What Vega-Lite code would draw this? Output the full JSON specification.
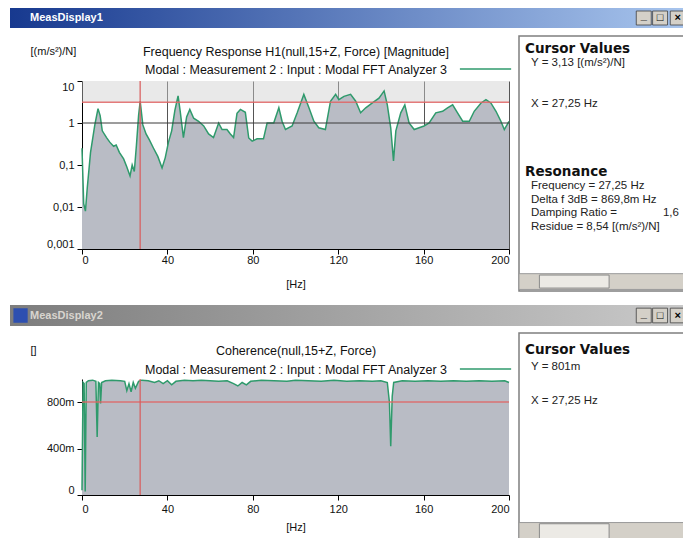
{
  "$schema": "https://vega.github.io/schema/vega-lite/v6.json",
  "background": "#ffffff",
  "padding": {"left": 10, "top": 8, "right": 0, "bottom": 0},
  "config": {
    "view": {"stroke": null},
    "font": "Liberation Sans",
    "axis": {"domainColor": "#000000", "tickColor": "#000000", "labelColor": "#111111", "titleColor": "#111111", "labelFont": "Liberation Sans", "titleFont": "Liberation Sans", "labelFontSize": 11, "titleFontSize": 11, "titleFontWeight": "normal", "tickSize": 5, "grid": false}
  },
  "datasets": {
    "frf": [
      {"hz": 0, "mag": 0.25}, {"hz": 0.8, "mag": 0.012}, {"hz": 1.6, "mag": 0.008}, {"hz": 2.5, "mag": 0.03}, {"hz": 4, "mag": 0.2},
      {"hz": 6, "mag": 0.9}, {"hz": 7.5, "mag": 2.2}, {"hz": 8.5, "mag": 1.5}, {"hz": 9.5, "mag": 0.65}, {"hz": 11.5, "mag": 0.45},
      {"hz": 13, "mag": 0.35}, {"hz": 14.8, "mag": 0.28}, {"hz": 16, "mag": 0.3}, {"hz": 17.5, "mag": 0.2}, {"hz": 19.5, "mag": 0.14},
      {"hz": 21, "mag": 0.09}, {"hz": 22.5, "mag": 0.055}, {"hz": 23.5, "mag": 0.1}, {"hz": 24.5, "mag": 0.07}, {"hz": 25.5, "mag": 0.3},
      {"hz": 26.5, "mag": 1.5}, {"hz": 27.25, "mag": 3.3}, {"hz": 28.5, "mag": 0.9}, {"hz": 30, "mag": 0.55}, {"hz": 31.5, "mag": 0.4},
      {"hz": 33.5, "mag": 0.25}, {"hz": 35.5, "mag": 0.16}, {"hz": 37.5, "mag": 0.085}, {"hz": 39, "mag": 0.15}, {"hz": 40.5, "mag": 0.35},
      {"hz": 42, "mag": 0.65}, {"hz": 43.5, "mag": 2.0}, {"hz": 45, "mag": 4.4}, {"hz": 46, "mag": 1.9}, {"hz": 47.5, "mag": 0.45},
      {"hz": 49, "mag": 1.4}, {"hz": 50.5, "mag": 2.1}, {"hz": 52.3, "mag": 1.3}, {"hz": 54.6, "mag": 1.1}, {"hz": 57, "mag": 0.85},
      {"hz": 59.3, "mag": 0.55}, {"hz": 61.6, "mag": 0.45}, {"hz": 64, "mag": 1.0}, {"hz": 65.6, "mag": 0.7}, {"hz": 67.9, "mag": 0.7},
      {"hz": 69.5, "mag": 0.55}, {"hz": 71, "mag": 0.45}, {"hz": 72.6, "mag": 1.7}, {"hz": 74.2, "mag": 2.1}, {"hz": 76.5, "mag": 1.8},
      {"hz": 78.1, "mag": 0.44}, {"hz": 79.7, "mag": 0.37}, {"hz": 82, "mag": 0.42}, {"hz": 85, "mag": 0.42}, {"hz": 86.7, "mag": 1.0},
      {"hz": 89.8, "mag": 1.0}, {"hz": 92.2, "mag": 2.3}, {"hz": 93.7, "mag": 1.1}, {"hz": 95.3, "mag": 0.7}, {"hz": 98.4, "mag": 0.85},
      {"hz": 100.8, "mag": 1.75}, {"hz": 103.9, "mag": 4.8}, {"hz": 106.3, "mag": 2.3}, {"hz": 108.6, "mag": 1.1}, {"hz": 110.9, "mag": 0.77},
      {"hz": 114, "mag": 0.7}, {"hz": 116.4, "mag": 3.3}, {"hz": 118.8, "mag": 4.8}, {"hz": 120.3, "mag": 3.6}, {"hz": 122.7, "mag": 4.3},
      {"hz": 125.8, "mag": 4.8}, {"hz": 128.2, "mag": 3.3}, {"hz": 130.5, "mag": 1.75}, {"hz": 132.9, "mag": 2.3}, {"hz": 136, "mag": 3.0},
      {"hz": 139.1, "mag": 3.9}, {"hz": 141.5, "mag": 5.8}, {"hz": 143, "mag": 2.7}, {"hz": 144.6, "mag": 0.77}, {"hz": 145.9, "mag": 0.125},
      {"hz": 147, "mag": 0.65}, {"hz": 149.3, "mag": 1.75}, {"hz": 151.2, "mag": 2.7}, {"hz": 153.2, "mag": 1.0}, {"hz": 155.6, "mag": 0.7},
      {"hz": 157.9, "mag": 0.77}, {"hz": 160.2, "mag": 0.85}, {"hz": 162.6, "mag": 1.0}, {"hz": 165.7, "mag": 1.75}, {"hz": 168.9, "mag": 1.9},
      {"hz": 171.2, "mag": 2.3}, {"hz": 173.6, "mag": 2.7}, {"hz": 175.9, "mag": 1.75}, {"hz": 178.3, "mag": 1.1}, {"hz": 181.4, "mag": 1.1},
      {"hz": 183.7, "mag": 1.9}, {"hz": 186.9, "mag": 3.0}, {"hz": 189.2, "mag": 3.6}, {"hz": 191.5, "mag": 3.0}, {"hz": 193.9, "mag": 1.9},
      {"hz": 196.2, "mag": 1.1}, {"hz": 197.8, "mag": 0.7}, {"hz": 200, "mag": 1.1}
    ],
    "coh": [
      {"hz": 0, "coh": 0.04}, {"hz": 0.5, "coh": 0.97}, {"hz": 1.0, "coh": 0.96}, {"hz": 1.5, "coh": 0.03}, {"hz": 2.0, "coh": 0.97},
      {"hz": 3, "coh": 0.985}, {"hz": 5, "coh": 0.99}, {"hz": 6.5, "coh": 0.98}, {"hz": 7.1, "coh": 0.5}, {"hz": 7.7, "coh": 0.97},
      {"hz": 8.3, "coh": 0.96}, {"hz": 8.7, "coh": 0.79}, {"hz": 9.2, "coh": 0.97}, {"hz": 11, "coh": 0.985}, {"hz": 14, "coh": 0.99},
      {"hz": 18, "coh": 0.985}, {"hz": 20, "coh": 0.98}, {"hz": 21, "coh": 0.9}, {"hz": 22, "coh": 0.96}, {"hz": 23, "coh": 0.89},
      {"hz": 24, "coh": 0.97}, {"hz": 25, "coh": 0.92}, {"hz": 26.5, "coh": 0.98}, {"hz": 28, "coh": 0.99}, {"hz": 31, "coh": 0.985},
      {"hz": 34, "coh": 0.97}, {"hz": 36, "coh": 0.985}, {"hz": 38, "coh": 0.96}, {"hz": 40, "coh": 0.985}, {"hz": 42, "coh": 0.95},
      {"hz": 44, "coh": 0.98}, {"hz": 48, "coh": 0.99}, {"hz": 52, "coh": 0.985}, {"hz": 56, "coh": 0.99}, {"hz": 60, "coh": 0.985},
      {"hz": 64, "coh": 0.98}, {"hz": 68, "coh": 0.985}, {"hz": 71, "coh": 0.96}, {"hz": 73, "coh": 0.94}, {"hz": 75, "coh": 0.97},
      {"hz": 77, "coh": 0.95}, {"hz": 79, "coh": 0.98}, {"hz": 84, "coh": 0.99}, {"hz": 90, "coh": 0.985}, {"hz": 96, "coh": 0.98},
      {"hz": 100, "coh": 0.99}, {"hz": 106, "coh": 0.985}, {"hz": 112, "coh": 0.98}, {"hz": 118, "coh": 0.99}, {"hz": 124, "coh": 0.98},
      {"hz": 130, "coh": 0.985}, {"hz": 136, "coh": 0.98}, {"hz": 140, "coh": 0.985}, {"hz": 143, "coh": 0.97}, {"hz": 144, "coh": 0.8},
      {"hz": 144.6, "coh": 0.42}, {"hz": 145.3, "coh": 0.85}, {"hz": 146, "coh": 0.97}, {"hz": 150, "coh": 0.985}, {"hz": 156, "coh": 0.98},
      {"hz": 162, "coh": 0.985}, {"hz": 168, "coh": 0.98}, {"hz": 174, "coh": 0.985}, {"hz": 180, "coh": 0.98}, {"hz": 186, "coh": 0.985},
      {"hz": 192, "coh": 0.98}, {"hz": 198, "coh": 0.985}, {"hz": 200, "coh": 0.97}
    ],
    "panel1": [
      {"row": 0, "kind": "heading", "text": "Cursor Values"},
      {"row": 1, "kind": "item", "text": "Y = 3,13 [(m/s²)/N]"},
      {"row": 4, "kind": "item", "text": "X = 27,25 Hz"},
      {"row": 9, "kind": "heading", "text": "Resonance"},
      {"row": 10, "kind": "item", "text": "Frequency = 27,25 Hz"},
      {"row": 11, "kind": "item", "text": "Delta f 3dB = 869,8m Hz"},
      {"row": 12, "kind": "item", "text": "Damping Ratio =\u2003\u2003\u2003\u20031,6"},
      {"row": 13, "kind": "item", "text": "Residue = 8,54 [(m/s²)/N]"}
    ],
    "panel2": [
      {"row": 0, "kind": "heading", "text": "Cursor Values"},
      {"row": 1, "kind": "item", "text": "Y = 801m"},
      {"row": 3, "kind": "item", "text": "X = 27,25 Hz"}
    ]
  },
  "spacing": 13,
  "vconcat": [
    {
      "spacing": 7,
      "vconcat": [
        {
          "width": 680, "height": 20,
          "data": {"values": [{"name": "MeasDisplay1"}]},
          "layer": [
            {"mark": {"type": "rect", "color": {"gradient": "linear", "x1": 0, "x2": 1, "y1": 0, "y2": 0, "stops": [{"offset": 0, "color": "#17398f"}, {"offset": 1, "color": "#a9c6ee"}]}},
             "encoding": {"x": {"datum": 0, "type": "quantitative", "scale": {"domain": [0, 1]}, "axis": null}, "x2": {"datum": 1}}},
            {"mark": {"type": "text", "align": "left", "baseline": "middle", "dx": 20, "color": "#ffffff", "fontWeight": "bold", "fontSize": 11},
             "encoding": {"x": {"datum": 0, "type": "quantitative"}, "text": {"field": "name"}}},
            {"mark": {"type": "rect", "color": "#d4d0c8", "stroke": "#404040", "strokeWidth": 0.8},
             "encoding": {"x": {"datum": 0.921, "type": "quantitative"}, "x2": {"datum": 0.943}, "y": {"datum": 0.15, "type": "quantitative", "scale": {"domain": [0, 1]}, "axis": null}, "y2": {"datum": 0.85}}},
            {"mark": {"type": "rect", "color": "#d4d0c8", "stroke": "#404040", "strokeWidth": 0.8},
             "encoding": {"x": {"datum": 0.945, "type": "quantitative"}, "x2": {"datum": 0.967}, "y": {"datum": 0.15, "type": "quantitative"}, "y2": {"datum": 0.85}}},
            {"mark": {"type": "rect", "color": "#d4d0c8", "stroke": "#404040", "strokeWidth": 0.8},
             "encoding": {"x": {"datum": 0.971, "type": "quantitative"}, "x2": {"datum": 0.993}, "y": {"datum": 0.15, "type": "quantitative"}, "y2": {"datum": 0.85}}},
            {"mark": {"type": "text", "align": "center", "baseline": "middle", "color": "#000000", "fontWeight": "bold", "fontSize": 11, "text": "_", "dy": -2},
             "encoding": {"x": {"datum": 0.932, "type": "quantitative"}}},
            {"mark": {"type": "text", "align": "center", "baseline": "middle", "color": "#000000", "fontWeight": "bold", "fontSize": 11, "text": "□"},
             "encoding": {"x": {"datum": 0.956, "type": "quantitative"}}},
            {"mark": {"type": "text", "align": "center", "baseline": "middle", "color": "#000000", "fontWeight": "bold", "fontSize": 11, "text": "×"},
             "encoding": {"x": {"datum": 0.982, "type": "quantitative"}}}
          ]
        },
        {
          "spacing": 5,
          "hconcat": [
            {"width": 15, "height": 1, "data": {"values": []}, "mark": "point"},
            {
              "spacing": 0,
              "vconcat": [
                {"width": 1, "height": 9, "data": {"values": []}, "mark": "point"},
                {
                  "width": 427, "height": 168,
                  "resolve": {"axis": {"x": "independent"}},
                  "layer": [
                    {"data": {"values": [{}]}, "mark": {"type": "rect", "color": "#cfcfcf", "opacity": 0.45},
                     "encoding": {"x": {"datum": 0, "type": "quantitative", "axis": null}, "x2": {"datum": 200}, "y": {"datum": 3.13, "type": "quantitative"}, "y2": {"datum": 10}}},
                    {"data": {"name": "frf"},
                     "mark": {"type": "area", "color": "#b9bcc5", "opacity": 1, "line": {"color": "#2f9a6c", "strokeWidth": 1.5}},
                     "encoding": {
                       "x": {"field": "hz", "type": "quantitative", "scale": {"domain": [0, 200], "nice": false, "zero": false},
                             "axis": {"values": [0, 40, 80, 120, 160, 200], "title": "[Hz]", "labelPadding": 0, "titlePadding": 13, "grid": true, "gridColor": "#555555", "gridOpacity": 1}},
                       "y": {"field": "mag", "type": "quantitative", "stack": null, "scale": {"type": "log", "domain": [0.001, 10], "nice": false},
                             "axis": {"values": [0.001, 0.01, 0.1, 1, 10], "labelExpr": "replace(format(datum.value, '~g'), '.', ',')", "labelFlush": true, "labelPadding": 3, "title": "[(m/s²)/N]", "titleAngle": 0, "titleAlign": "left", "titleBaseline": "middle", "titleX": -52, "titleY": -30}},
                       "y2": {"datum": 0.001}
                     }},
                    {"data": {"values": [{}]}, "mark": {"type": "rule", "color": "#3a3a3a", "strokeWidth": 1}, "encoding": {"y": {"datum": 1, "type": "quantitative"}}},
                    {"data": {"values": [{}]}, "mark": {"type": "rule", "color": "#e06464", "strokeWidth": 1.5, "opacity": 0.85}, "encoding": {"y": {"datum": 3.13, "type": "quantitative"}}},
                    {"data": {"values": [{}]}, "mark": {"type": "rule", "color": "#d85a5a", "strokeWidth": 1.5, "opacity": 0.8}, "encoding": {"x": {"datum": 27.25, "type": "quantitative", "axis": null}}},
                    {"data": {"values": [{}]}, "mark": {"type": "rule", "color": "#2f9a6c", "strokeWidth": 1.5},
                     "encoding": {
                       "x": {"datum": 177, "type": "quantitative",
                             "axis": {"orient": "top", "labels": false, "ticks": false, "domain": false, "grid": false, "title": ["Frequency Response H1(null,15+Z, Force) [Magnitude]", "Modal : Measurement 2 : Input : Modal FFT Analyzer 3"], "titleFontSize": 12.5, "titleLineHeight": 18, "titleBaseline": "middle", "titleY": -30}},
                       "x2": {"datum": 201},
                       "y": {"datum": 19.3, "type": "quantitative"}}}
                  ]
                }
              ]
            },
            {
              "width": 170, "height": 255,
              "view": {"fill": "#ffffff", "stroke": "#7f7f7f", "strokeWidth": 1.5},
              "layer": [
                {"data": {"values": [{"part": "bar"}]}, "mark": {"type": "rect", "color": "#d4d0c8", "stroke": "#9a9a9a", "strokeWidth": 1},
                 "encoding": {"x": {"datum": 0.0, "type": "quantitative", "scale": {"domain": [0, 1], "nice": false}, "axis": null}, "x2": {"datum": 1}, "y": {"datum": 16.4, "type": "quantitative", "scale": {"domain": [-0.9489, 17.664], "reverse": true, "nice": false, "zero": false}, "axis": null}, "y2": {"datum": 17.55}}},
                {"data": {"values": [{"part": "thumb"}]}, "mark": {"type": "rect", "color": "#eceae5", "stroke": "#8a8a8a", "strokeWidth": 1},
                 "encoding": {"x": {"datum": 0.12, "type": "quantitative"}, "x2": {"datum": 0.53}, "y": {"datum": 16.5, "type": "quantitative"}, "y2": {"datum": 17.45}}},
                {"data": {"name": "panel1"}, "transform": [{"filter": "datum.kind == 'heading'"}],
                 "mark": {"type": "text", "align": "left", "baseline": "middle", "dx": 6, "font": "DejaVu Sans", "fontWeight": "bold", "fontSize": 13.5, "color": "#111111"},
                 "encoding": {"x": {"datum": 0, "type": "quantitative"}, "y": {"field": "row", "type": "quantitative", "scale": {"domain": [-0.9489, 17.664], "reverse": true, "nice": false, "zero": false}}, "text": {"field": "text"}}},
                {"data": {"name": "panel1"}, "transform": [{"filter": "datum.kind == 'item'"}],
                 "mark": {"type": "text", "align": "left", "baseline": "middle", "dx": 12, "fontSize": 11.5, "color": "#222222"},
                 "encoding": {"x": {"datum": 0, "type": "quantitative"}, "y": {"field": "row", "type": "quantitative", "scale": {"domain": [-0.9489, 17.664], "reverse": true, "nice": false, "zero": false}}, "text": {"field": "text"}}}
              ]
            }
          ]
        }
      ]
    },
    {
      "spacing": 6,
      "vconcat": [
        {
          "width": 680, "height": 21,
          "data": {"values": [{"name": "MeasDisplay2"}]},
          "layer": [
            {"mark": {"type": "rect", "color": {"gradient": "linear", "x1": 0, "x2": 1, "y1": 0, "y2": 0, "stops": [{"offset": 0, "color": "#7d7d7d"}, {"offset": 1, "color": "#cacaca"}]}},
             "encoding": {"x": {"datum": 0, "type": "quantitative", "scale": {"domain": [0, 1]}, "axis": null}, "x2": {"datum": 1}}},
            {"mark": {"type": "rect", "color": "#2d4fb0"},
             "encoding": {"x": {"datum": 0.005, "type": "quantitative"}, "x2": {"datum": 0.026}, "y": {"datum": 0.15, "type": "quantitative", "scale": {"domain": [0, 1]}, "axis": null}, "y2": {"datum": 0.85}}},
            {"mark": {"type": "text", "align": "left", "baseline": "middle", "dx": 20, "color": "#d8d5cf", "fontWeight": "bold", "fontSize": 11},
             "encoding": {"x": {"datum": 0, "type": "quantitative"}, "text": {"field": "name"}}},
            {"mark": {"type": "rect", "color": "#d4d0c8", "stroke": "#404040", "strokeWidth": 0.8},
             "encoding": {"x": {"datum": 0.921, "type": "quantitative"}, "x2": {"datum": 0.943}, "y": {"datum": 0.15, "type": "quantitative"}, "y2": {"datum": 0.85}}},
            {"mark": {"type": "rect", "color": "#d4d0c8", "stroke": "#404040", "strokeWidth": 0.8},
             "encoding": {"x": {"datum": 0.945, "type": "quantitative"}, "x2": {"datum": 0.967}, "y": {"datum": 0.15, "type": "quantitative"}, "y2": {"datum": 0.85}}},
            {"mark": {"type": "rect", "color": "#d4d0c8", "stroke": "#404040", "strokeWidth": 0.8},
             "encoding": {"x": {"datum": 0.971, "type": "quantitative"}, "x2": {"datum": 0.993}, "y": {"datum": 0.15, "type": "quantitative"}, "y2": {"datum": 0.85}}},
            {"mark": {"type": "text", "align": "center", "baseline": "middle", "color": "#000000", "fontWeight": "bold", "fontSize": 11, "text": "_", "dy": -2},
             "encoding": {"x": {"datum": 0.932, "type": "quantitative"}}},
            {"mark": {"type": "text", "align": "center", "baseline": "middle", "color": "#000000", "fontWeight": "bold", "fontSize": 11, "text": "□"},
             "encoding": {"x": {"datum": 0.956, "type": "quantitative"}}},
            {"mark": {"type": "text", "align": "center", "baseline": "middle", "color": "#000000", "fontWeight": "bold", "fontSize": 11, "text": "×"},
             "encoding": {"x": {"datum": 0.982, "type": "quantitative"}}}
          ]
        },
        {
          "spacing": 5,
          "hconcat": [
            {"width": 15, "height": 1, "data": {"values": []}, "mark": "point"},
            {
              "spacing": 0,
              "vconcat": [
                {"width": 1, "height": 11, "data": {"values": []}, "mark": "point"},
                {
                  "width": 427, "height": 116,
                  "resolve": {"axis": {"x": "independent"}},
                  "layer": [
                    {"data": {"name": "coh"},
                     "mark": {"type": "area", "color": "#b9bcc5", "opacity": 1, "line": {"color": "#2f9a6c", "strokeWidth": 1.5}},
                     "encoding": {
                       "x": {"field": "hz", "type": "quantitative", "scale": {"domain": [0, 200], "nice": false, "zero": false},
                             "axis": {"values": [0, 40, 80, 120, 160, 200], "title": "[Hz]", "labelPadding": 3, "titlePadding": 7}},
                       "y": {"field": "coh", "type": "quantitative", "stack": null, "scale": {"domain": [0, 1], "nice": false},
                             "axis": {"values": [0, 0.4, 0.8], "labelExpr": "datum.value == 0 ? '0' : format(datum.value * 1000, 'd') + 'm'", "labelFlush": true, "labelPadding": 3, "title": "[]", "titleAngle": 0, "titleAlign": "left", "titleBaseline": "middle", "titleX": -52, "titleY": -29}},
                       "y2": {"datum": 0}
                     }},
                    {"data": {"values": [{}]}, "mark": {"type": "rule", "color": "#e06464", "strokeWidth": 1.5, "opacity": 0.85}, "encoding": {"y": {"datum": 0.801, "type": "quantitative"}}},
                    {"data": {"values": [{}]}, "mark": {"type": "rule", "color": "#d85a5a", "strokeWidth": 1.5, "opacity": 0.8}, "encoding": {"x": {"datum": 27.25, "type": "quantitative", "axis": null}}},
                    {"data": {"values": [{}]}, "mark": {"type": "rule", "color": "#2f9a6c", "strokeWidth": 1.5},
                     "encoding": {
                       "x": {"datum": 177, "type": "quantitative",
                             "axis": {"orient": "top", "labels": false, "ticks": false, "domain": false, "grid": false, "title": ["Coherence(null,15+Z, Force)", "Modal : Measurement 2 : Input : Modal FFT Analyzer 3"], "titleFontSize": 12.5, "titleLineHeight": 19, "titleBaseline": "middle", "titleY": -29}},
                       "x2": {"datum": 201},
                       "y": {"datum": 1.086, "type": "quantitative"}}}
                  ]
                }
              ]
            },
            {
              "width": 170, "height": 208,
              "view": {"fill": "#ffffff", "stroke": "#7f7f7f", "strokeWidth": 1.5},
              "layer": [
                {"data": {"values": [{"part": "bar"}]}, "mark": {"type": "rect", "color": "#d4d0c8", "stroke": "#9a9a9a", "strokeWidth": 1},
                 "encoding": {"x": {"datum": 0.0, "type": "quantitative", "scale": {"domain": [0, 1], "nice": false}, "axis": null}, "x2": {"datum": 1}, "y": {"datum": 10.15, "type": "quantitative", "scale": {"domain": [-1, 11.235], "reverse": true, "nice": false, "zero": false}, "axis": null}, "y2": {"datum": 11.2}}},
                {"data": {"values": [{"part": "thumb"}]}, "mark": {"type": "rect", "color": "#eceae5", "stroke": "#8a8a8a", "strokeWidth": 1},
                 "encoding": {"x": {"datum": 0.12, "type": "quantitative"}, "x2": {"datum": 0.53}, "y": {"datum": 10.22, "type": "quantitative"}, "y2": {"datum": 11.13}}},
                {"data": {"name": "panel2"}, "transform": [{"filter": "datum.kind == 'heading'"}],
                 "mark": {"type": "text", "align": "left", "baseline": "middle", "dx": 6, "font": "DejaVu Sans", "fontWeight": "bold", "fontSize": 13.5, "color": "#111111"},
                 "encoding": {"x": {"datum": 0, "type": "quantitative"}, "y": {"field": "row", "type": "quantitative", "scale": {"domain": [-1, 11.235], "reverse": true, "nice": false, "zero": false}}, "text": {"field": "text"}}},
                {"data": {"name": "panel2"}, "transform": [{"filter": "datum.kind == 'item'"}],
                 "mark": {"type": "text", "align": "left", "baseline": "middle", "dx": 12, "fontSize": 11.5, "color": "#222222"},
                 "encoding": {"x": {"datum": 0, "type": "quantitative"}, "y": {"field": "row", "type": "quantitative", "scale": {"domain": [-1, 11.235], "reverse": true, "nice": false, "zero": false}}, "text": {"field": "text"}}}
              ]
            }
          ]
        }
      ]
    }
  ]
}
